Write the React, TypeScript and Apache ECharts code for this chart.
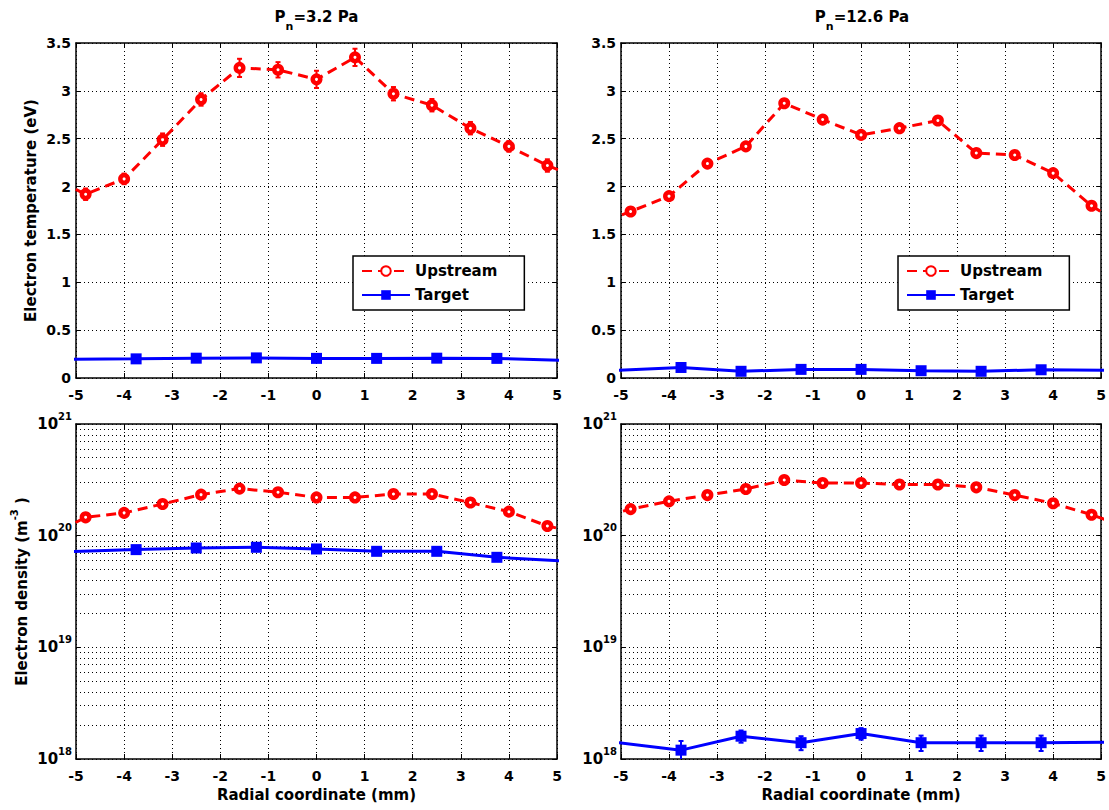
import React, { useEffect, useRef } from 'react';
import * as echarts from 'echarts';

const FONT = 'DejaVu Sans';
const RED = '#ff0000';
const BLUE = '#0000ff';

// Radial positions (mm); first/last points lie just outside the plotted range
const upstreamX = [-5.6, -4.8, -4.0, -3.2, -2.4, -1.6, -0.8, 0, 0.8, 1.6, 2.4, 3.2, 4.0, 4.8, 5.6];
const targetX = [-5.1, -3.75, -2.5, -1.25, 0, 1.25, 2.5, 3.75, 5.1];

// Electron temperature (eV)
const teUpstream32 = [2.12, 1.92, 2.08, 2.49, 2.91, 3.24, 3.22, 3.12, 3.35, 2.97, 2.85, 2.61, 2.42, 2.22, 2.06];
const teUpstreamErr32 = [0, 0.06, 0.055, 0.065, 0.065, 0.095, 0.08, 0.09, 0.09, 0.07, 0.065, 0.065, 0.055, 0.065, 0];
const teTarget32 = [0.197, 0.2, 0.207, 0.21, 0.205, 0.205, 0.207, 0.205, 0.185];
const teUpstream126 = [1.58, 1.74, 1.9, 2.24, 2.42, 2.87, 2.7, 2.54, 2.61, 2.69, 2.35, 2.33, 2.14, 1.8, 1.55];
const teTarget126 = [0.08, 0.11, 0.07, 0.09, 0.09, 0.076, 0.07, 0.086, 0.08];

// Electron density (m^-3)
const neUpstream32 = [9.7e19, 1.46e20, 1.6e20, 1.92e20, 2.33e20, 2.64e20, 2.45e20, 2.2e20, 2.2e20, 2.36e20, 2.36e20, 1.98e20, 1.64e20, 1.22e20, 1.03e20];
const neTarget32 = [7.2e19, 7.5e19, 7.76e19, 7.87e19, 7.6e19, 7.24e19, 7.24e19, 6.4e19, 5.95e19];
const neUpstream126 = [1.39e20, 1.73e20, 2.03e20, 2.31e20, 2.62e20, 3.15e20, 2.96e20, 2.96e20, 2.87e20, 2.87e20, 2.71e20, 2.31e20, 1.95e20, 1.54e20, 1.17e20];
const neTarget126 = [1.41e18, 1.2e18, 1.6e18, 1.4e18, 1.69e18, 1.4e18, 1.4e18, 1.4e18, 1.41e18];
const neTargetErr126 = [0, 0.25e18, 0.2e18, 0.2e18, 0.2e18, 0.22e18, 0.22e18, 0.22e18, 0];

const pressures = ['3.2', '12.6'];
const legendNames = ['Upstream', 'Target'];
const decades = [1e18, 1e19, 1e20];
const minorMultipliers = [2, 3, 4, 5, 6, 7, 8, 9];

const grids = [
  { left: 76, top: 43, width: 481, height: 335 },
  { left: 621, top: 43, width: 482, height: 335 },
  { left: 76, top: 424, width: 481, height: 335 },
  { left: 621, top: 424, width: 482, height: 335 },
];

const zip = (xs: number[], ys: number[]) => xs.map((x, i) => [x, ys[i]]);

const gridLine = { color: '#000', type: [1, 3], width: 1 };
const axisLineStyle = { show: true, onZero: false, lineStyle: { color: '#000', width: 1.5 } };
const tickStyle = { show: true, inside: true, length: 5, lineStyle: { color: '#000', width: 1 } };
const labelFont = { fontFamily: FONT, fontWeight: 'bold', fontSize: 14, color: '#000' };
const nameFont = { fontFamily: FONT, fontWeight: 'bold', fontSize: 15, color: '#000' };

function xAxes(gi: number, named: boolean) {
  const base = { gridIndex: gi, type: 'value', min: -5, max: 5, interval: 1, axisLine: axisLineStyle, axisTick: tickStyle };
  return [
    {
      ...base,
      position: 'bottom',
      axisLabel: { ...labelFont, margin: 10 },
      splitLine: { show: true, lineStyle: gridLine },
      name: named ? 'Radial coordinate (mm)' : '',
      nameLocation: 'middle',
      nameGap: 28,
      nameTextStyle: nameFont,
    },
    { ...base, position: 'top', axisLabel: { show: false }, splitLine: { show: false } },
  ];
}

function tempYAxes(gi: number, named: boolean) {
  const base = { gridIndex: gi, type: 'value', min: 0, max: 3.5, interval: 0.5, axisLine: axisLineStyle, axisTick: tickStyle };
  return [
    {
      ...base,
      position: 'left',
      axisLabel: { ...labelFont, margin: 5 },
      splitLine: { show: true, lineStyle: gridLine },
      name: named ? 'Electron temperature (eV)' : '',
      nameLocation: 'middle',
      nameGap: 38,
      nameTextStyle: nameFont,
    },
    { ...base, position: 'right', axisLabel: { show: false }, splitLine: { show: false } },
  ];
}

function densYAxes(gi: number, named: boolean) {
  const base = { gridIndex: gi, type: 'log', logBase: 10, min: 1e18, max: 1e21, axisLine: axisLineStyle, axisTick: tickStyle };
  return [
    {
      ...base,
      position: 'left',
      axisLabel: {
        ...labelFont,
        margin: 4,
        formatter: (v: number) => `{b|10}{s|${Math.round(Math.log10(v))}}`,
        rich: {
          b: { fontFamily: FONT, fontWeight: 'bold', fontSize: 15, color: '#000', lineHeight: 26 },
          s: { fontFamily: FONT, fontWeight: 'bold', fontSize: 10, color: '#000', lineHeight: 10, verticalAlign: 'top' },
        },
      },
      splitLine: { show: true, lineStyle: gridLine },
      name: named ? '{b|Electron density (m}{s|-3}{b| )}' : '',
      nameLocation: 'middle',
      nameGap: 41,
      nameTextStyle: {
        ...nameFont,
        rich: {
          b: { ...nameFont, lineHeight: 26 },
          s: { fontFamily: FONT, fontWeight: 'bold', fontSize: 10, color: '#000', lineHeight: 10, verticalAlign: 'top' },
        },
      },
    },
    { ...base, position: 'right', axisLabel: { show: false }, splitLine: { show: false } },
  ];
}

function upstreamSeries(gi: number, ys: number[]) {
  return {
    type: 'line',
    name: 'Upstream',
    xAxisIndex: gi * 2,
    yAxisIndex: gi * 2,
    data: zip(upstreamX, ys),
    symbol: 'circle',
    symbolSize: 7.5,
    clip: true,
    z: 3,
    lineStyle: { color: RED, width: 3, type: [10, 6] },
    itemStyle: { color: '#fff', borderColor: RED, borderWidth: 4.5 },
    emphasis: { disabled: true },
  };
}

function targetSeries(gi: number, ys: number[]) {
  return {
    type: 'line',
    name: 'Target',
    xAxisIndex: gi * 2,
    yAxisIndex: gi * 2,
    data: zip(targetX, ys),
    symbol: 'rect',
    symbolSize: 11,
    clip: true,
    z: 3,
    lineStyle: { color: BLUE, width: 3 },
    itemStyle: { color: BLUE },
    emphasis: { disabled: true },
  };
}

function errorSeries(gi: number, xs: number[], ys: number[], errs: number[], color: string) {
  const data = xs
    .map((x, i) => [x, ys[i], ys[i] - errs[i], ys[i] + errs[i]])
    .filter((d, i) => errs[i] > 0);
  return {
    type: 'custom',
    name: 'err' + gi,
    xAxisIndex: gi * 2,
    yAxisIndex: gi * 2,
    data,
    clip: true,
    z: 2,
    silent: true,
    encode: { x: 0, y: 1 },
    renderItem: (params: any, api: any) => {
      const x = api.value(0);
      const a = api.coord([x, api.value(2)]);
      const b = api.coord([x, api.value(3)]);
      const st = { stroke: color, lineWidth: 2 };
      return {
        type: 'group',
        children: [
          { type: 'line', shape: { x1: a[0], y1: a[1], x2: b[0], y2: b[1] }, style: st },
          { type: 'line', shape: { x1: a[0] - 2.5, y1: a[1], x2: a[0] + 2.5, y2: a[1] }, style: st },
          { type: 'line', shape: { x1: b[0] - 2.5, y1: b[1], x2: b[0] + 2.5, y2: b[1] }, style: st },
        ],
      };
    },
  };
}

function minorGridSeries(gi: number) {
  const values: number[] = [];
  decades.forEach((d) => minorMultipliers.forEach((m) => values.push(d * m)));
  return {
    type: 'line',
    name: 'minor' + gi,
    xAxisIndex: gi * 2,
    yAxisIndex: gi * 2,
    data: [],
    markLine: {
      silent: true,
      z: 1,
      symbol: ['none', 'none'],
      label: { show: false },
      lineStyle: gridLine,
      emphasis: { disabled: true },
      data: values.map((v) => ({ yAxis: v })),
    },
  };
}

function legendAt(left: number) {
  return {
    show: true,
    orient: 'vertical',
    left,
    top: 256,
    data: legendNames,
    itemWidth: 48,
    itemHeight: 12,
    itemGap: 6,
    padding: [6, 27, 6, 8],
    backgroundColor: '#fff',
    borderColor: '#000',
    borderWidth: 1.5,
    selectedMode: false,
    textStyle: { fontFamily: FONT, fontWeight: 'bold', fontSize: 15, color: '#000', lineHeight: 18 },
  };
}

function titleText(x: number, p: string) {
  const tok = { fontFamily: FONT, fontWeight: 'bold', fill: '#000' };
  return {
    type: 'text',
    x,
    y: 17,
    style: {
      text: `{b|P}{s|n}{b|=${p} Pa}`,
      align: 'center',
      verticalAlign: 'middle',
      rich: {
        b: { ...tok, fontSize: 15, lineHeight: 30 },
        s: { ...tok, fontSize: 11, lineHeight: 11, verticalAlign: 'bottom' },
      },
    },
  };
}

export default function App() {
  const ref = useRef<HTMLDivElement>(null);
  useEffect(() => {
    if (!ref.current) return;
    const chart = echarts.init(ref.current, undefined, { renderer: 'svg' });
    const option: any = {
      animation: false,
      backgroundColor: '#fff',
      grid: grids.map((g) => ({ ...g, containLabel: false })),
      xAxis: [...xAxes(0, false), ...xAxes(1, false), ...xAxes(2, true), ...xAxes(3, true)],
      yAxis: [...tempYAxes(0, true), ...tempYAxes(1, false), ...densYAxes(2, true), ...densYAxes(3, false)],
      legend: [legendAt(353), legendAt(898)],
      graphic: [titleText(316.5, pressures[0]), titleText(862, pressures[1])],
      series: [
        minorGridSeries(2),
        minorGridSeries(3),
        errorSeries(0, upstreamX, teUpstream32, teUpstreamErr32, RED),
        errorSeries(3, targetX, neTarget126, neTargetErr126, BLUE),
        upstreamSeries(0, teUpstream32),
        targetSeries(0, teTarget32),
        upstreamSeries(1, teUpstream126),
        targetSeries(1, teTarget126),
        upstreamSeries(2, neUpstream32),
        targetSeries(2, neTarget32),
        upstreamSeries(3, neUpstream126),
        targetSeries(3, neTarget126),
      ],
    };
    chart.setOption(option);
    return () => chart.dispose();
  }, []);
  return <div ref={ref} style={{ position: 'absolute', left: 0, top: 0, width: 1109, height: 810, background: '#fff' }} />;
}
